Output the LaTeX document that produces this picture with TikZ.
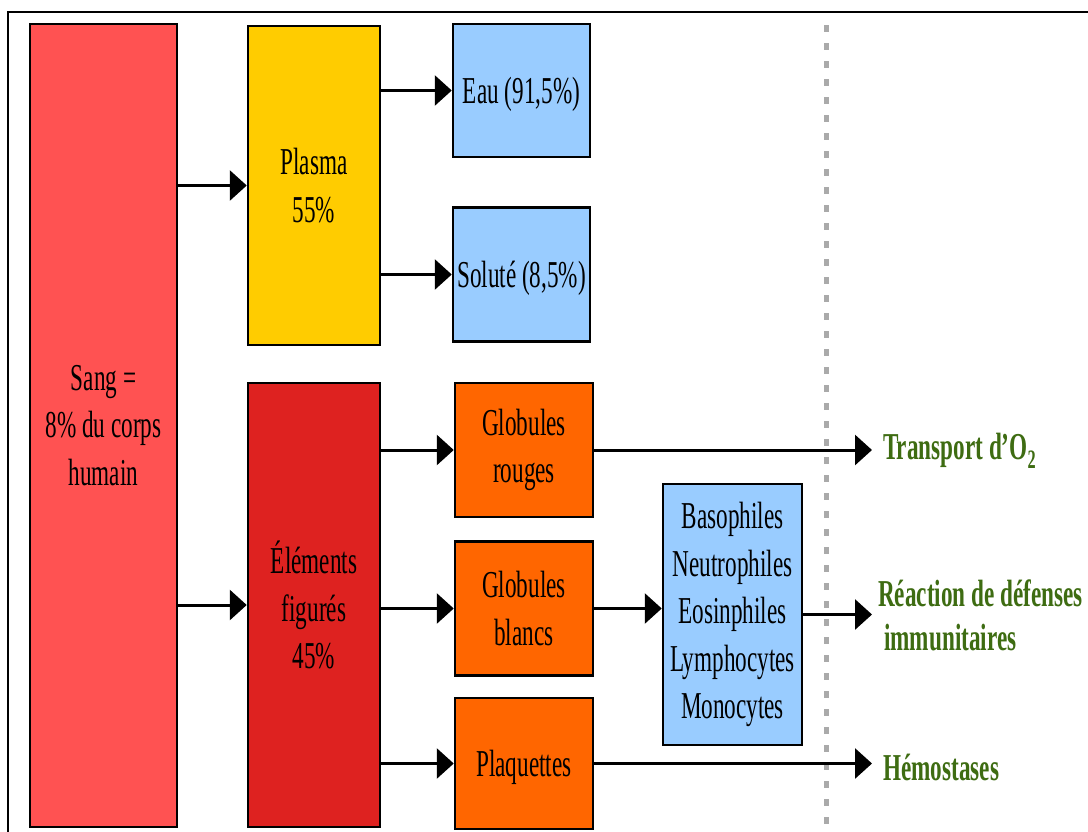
\documentclass[tikz,border=0pt]{standalone}
\usepackage{fontspec}
\setmainfont{Liberation Serif}[FakeStretch=0.61]
\usepackage{xcolor}
\usepackage{tikz}
\usetikzlibrary{arrows.meta, positioning}

\definecolor{sangred}{RGB}{255,82,82}
\definecolor{plasmayellow}{RGB}{255,204,0}
\definecolor{elemred}{RGB}{222,34,32}
\definecolor{paleblue}{RGB}{153,204,255}
\definecolor{cellorange}{RGB}{255,102,0}
\definecolor{resgreen}{RGB}{62,108,18}
\definecolor{sepgray}{RGB}{170,170,170}

\begin{document}
\begin{tikzpicture}[
    x=1pt, y=-1pt,
    box/.style={rectangle, draw, line width=2.5pt, align=center, inner sep=0pt,
                font=\fontsize{38}{47.5}\selectfont,
                execute at begin node={\rule{0pt}{34pt}}},
    part/.style={box, minimum width=132pt},
    item/.style={box, minimum width=137pt, minimum height=134pt},
    result/.style={anchor=west, inner sep=0pt, align=left, text=resgreen,
                   font=\fontsize{38}{44}\selectfont\bfseries},
    arr/.style={-{Triangle[length=17pt, width=30pt]}, line width=3pt},
]
\useasboundingbox (0,0) rectangle (1088,831);
% cadre
\draw[line width=2pt] (8,845) -- (8,12) -- (1095,12);

\node[box, fill=sangred, minimum width=147pt, minimum height=803pt] (sang) at (103.5,425.5)
    {Sang =\\8\% du corps\\humain};
\node[part, fill=plasmayellow, minimum height=319pt] (plasma) at (314,185.5) {Plasma\\55\%};
\node[part, fill=elemred, minimum height=444pt] (elem) at (314,605)
    {Éléments\\figurés\\45\%};

\node[item, fill=paleblue, minimum height=133pt] (eau) at (521.5,90.5) {Eau (91,5\%)};
\node[item, fill=paleblue, below=48pt of eau] (solute) {Soluté (8,5\%)};

\node[item, fill=cellorange, minimum width=138pt] (gr) at (524,450) {Globules\\rouges};
\node[item, fill=cellorange, minimum width=138pt, below=22pt of gr] (gb) {Globules\\blancs};
\node[item, fill=cellorange, minimum width=138pt, minimum height=131pt, below=20pt of gb] (plaq)
    {Plaquettes};

\node[box, fill=paleblue, minimum width=139pt, minimum height=261pt] (types) at (732.5,614.5)
    {Basophiles\\Neutrophiles\\Eosinphiles\\Lymphocytes\\Monocytes};

% separation
\draw[sepgray, line width=5pt, dash pattern=on 7pt off 11pt] (826,25) -- (826,840);

\node[result] (transport) at (883,451) {Transport d’O\textsubscript{2}};
\node[result] (defense) at (878,615) {Réaction de défenses\\\hspace{6pt}immunitaires};
\node[result] (hemo) at (883,767) {Hémostases};

\draw[arr] (sang.east |- plasma.west) -- (plasma.west);
\draw[arr] (sang.east |- elem.west) -- (elem.west);
\draw[arr] (plasma.east |- eau.west) -- (eau.west);
\draw[arr] (plasma.east |- solute.west) -- (solute.west);
\draw[arr] (elem.east |- gr.west) -- (gr.west);
\draw[arr] (elem.east |- gb.west) -- (gb.west);
\draw[arr] (elem.east |- plaq.west) -- (plaq.west);
\draw[arr] (gb.east) -- (gb.east -| types.west);
\draw[arr, shorten >=11pt] (gr.east) -- (gr.east -| transport.west);
\draw[arr, shorten >=6pt] (types.east) -- (types.east -| defense.west);
\draw[arr, shorten >=11pt] (plaq.east) -- (plaq.east -| hemo.west);
\end{tikzpicture}
\end{document}
